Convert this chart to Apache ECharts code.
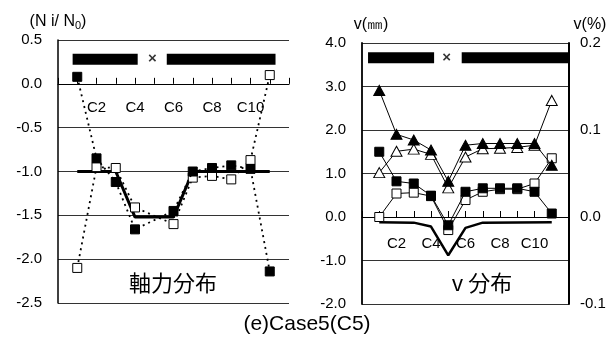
<!DOCTYPE html>
<html><head><meta charset="utf-8">
<script src="https://cdn.jsdelivr.net/npm/echarts@6/dist/echarts.min.js"></script>
<style>html,body{margin:0;padding:0;background:#fff}#c{width:613px;height:343px}</style>
</head><body><div id="c"></div>
<script>
// ---- data ----
const colX = [1, 2, 3, 4, 5, 6, 7, 8, 9, 10, 11];
const colLabels = ['C1','C2','C3','C4','C5','C6','C7','C8','C9','C10','C11'];
const xTickLabels = ['C2','C4','C6','C8','C10'];
const removedCol = 5;

// axial force ratio Ni/N0
const axialFilled = [0.08, -0.85, -1.12, -1.66, null, -1.45, -1.00, -0.96, -0.93, -0.97, -2.14];
const axialOpen   = [-2.10, -0.95, -0.96, -1.41, null, -1.60, -1.07, -1.05, -1.09, -0.87, 0.10];
const axialLineX  = [1, 3, 4, 6, 7, 11];
const axialLineY  = [-1.0, -1.0, -1.52, -1.52, -1.0, -1.0];
const axialTicks  = { min: -2.5, max: 0.5, step: 0.5 };

// vertical displacement v (mm)
const vTriFilled = [2.91, 1.90, 1.77, 1.54, 0.82, 1.65, 1.69, 1.69, 1.69, 1.69, 1.19];
const vTriOpen   = [1.02, 1.51, 1.56, 1.44, 0.67, 1.38, 1.57, 1.58, 1.60, 1.65, 2.68];
const vSqFilled  = [1.50, 0.82, 0.77, 0.49, -0.19, 0.58, 0.66, 0.66, 0.66, 0.58, 0.08];
const vSqOpen    = [0.00, 0.54, 0.56, 0.48, -0.30, 0.39, 0.58, 0.64, 0.64, 0.77, 1.35];
const vLineX     = [1, 3, 4, 5, 6, 7, 11];
const vLineY     = [-0.12, -0.13, -0.22, -0.88, -0.25, -0.13, -0.12];
const vTicks     = { min: -2, max: 4, step: 1 };
const vPctTicks  = { min: -0.1, max: 0.2, step: 0.1 };

// beam (girder) segments drawn above each plot
const beamSegsAxial = [[0.76, 4.14], [5.65, 11.3]];
const beamLevelAxial = 0.28;
const beamSegsV = [[0.35, 4.18], [5.78, 11.97]];
const beamLevelV = 3.66;

// ---- chart ----
const FONT = '"Liberation Sans", Arial, sans-serif';
const CJK = '"Noto Sans CJK JP", sans-serif';
const pts = (xs, ys) => xs.map((x, i) => [x, ys[i]]);

const G0 = { left: 58, top: 40, width: 231, height: 263 };
const G1 = { left: 362, top: 43, width: 207, height: 261 };
// distance (px) from grid bottom up to the value 0 on the y axis
const zeroOffset = (g, t) => -g.height * (0 - t.min) / (t.max - t.min);

function beamSeries(segs, level, xi, yi) {
  const out = segs.map(s => ({
    type: 'line', xAxisIndex: xi, yAxisIndex: yi, silent: true,
    data: [[s[0], level], [s[1], level]], symbol: 'none',
    lineStyle: { color: '#000', width: 11, cap: 'butt' }, z: 3
  }));
  out.push({
    type: 'scatter', xAxisIndex: xi, yAxisIndex: yi, silent: true,
    data: [[removedCol - 0.1, level]], symbolSize: 0,
    label: { show: true, position: 'inside', formatter: '×', color: '#000',
             fontSize: 15, fontWeight: 'bold', fontFamily: FONT }
  });
  return out;
}

function markSeries(vals, symbol, size, filled, dotted, xi, yi, z) {
  return {
    type: 'line', xAxisIndex: xi, yAxisIndex: yi, z: z,
    data: pts(colX, vals), connectNulls: true,
    symbol: symbol, symbolSize: size, showSymbol: true,
    itemStyle: { color: filled ? '#000' : '#fff', borderColor: '#000', borderWidth: 1 },
    lineStyle: dotted ? { color: '#000', width: 1.8, type: [2, 4] }
                      : { color: '#000', width: 1 },
    emphasis: { disabled: true }
  };
}

function xAxisFor(gi, g, t, margin) {
  return {
    type: 'value', gridIndex: gi, min: 0, max: 12, interval: 1,
    position: 'bottom', offset: zeroOffset(g, t),
    axisLine: { show: true, onZero: false, lineStyle: { color: '#000', width: 1.2 } },
    axisTick: { show: true, inside: true, length: 6, lineStyle: { color: '#000', width: 1 } },
    splitLine: { show: false },
    axisLabel: {
      fontFamily: FONT, fontSize: 15, color: '#000', margin: margin,
      formatter: v => { const l = colLabels[v - 1]; return xTickLabels.includes(l) ? l : ''; }
    }
  };
}

const chart = echarts.init(document.getElementById('c'), null, { renderer: 'canvas' });
chart.setOption({
  animation: false,
  backgroundColor: '#fff',
  grid: [G0, G1],
  xAxis: [
    xAxisFor(0, G0, axialTicks, 17),
    xAxisFor(1, G1, vTicks, 19)
  ],
  yAxis: [
    {
      type: 'value', gridIndex: 0, min: axialTicks.min, max: axialTicks.max, interval: axialTicks.step,
      name: '{a|(N i/ N}{s|0}{a|)}', nameLocation: 'end', nameGap: 9,
      nameTextStyle: { align: 'center', verticalAlign: 'bottom',
                       rich: { a: { fontFamily: FONT, fontSize: 16, color: '#000' },
                               s: { fontFamily: FONT, fontSize: 11, color: '#000', padding: [7, 0, 0, 0] } } },
      axisLine: { show: true, onZero: false, lineStyle: { color: '#000', width: 1.5 } },
      axisTick: { show: false },
      splitLine: { show: true, lineStyle: { color: '#333', width: 1 } },
      axisLabel: { fontFamily: FONT, fontSize: 15, color: '#000', margin: 16,
                   formatter: v => v.toFixed(1) }
    },
    {
      type: 'value', gridIndex: 1, min: vTicks.min, max: vTicks.max, interval: vTicks.step,
      name: 'v(㎜)', nameLocation: 'end', nameGap: 10,
      nameTextStyle: { align: 'center', verticalAlign: 'bottom', fontFamily: FONT, fontSize: 16, color: '#000', padding: [0, 0, 0, 18] },
      axisLine: { show: true, onZero: false, lineStyle: { color: '#000', width: 1.8 } },
      axisTick: { show: false },
      splitLine: { show: true, lineStyle: { color: '#333', width: 1 } },
      axisLabel: { fontFamily: FONT, fontSize: 15, color: '#000', margin: 16,
                   formatter: v => v.toFixed(1) }
    },
    {
      type: 'value', gridIndex: 1, position: 'right', min: vPctTicks.min, max: vPctTicks.max, interval: vPctTicks.step,
      name: 'v(%)', nameLocation: 'end', nameGap: 10,
      nameTextStyle: { align: 'center', verticalAlign: 'bottom', fontFamily: FONT, fontSize: 16, color: '#000', padding: [0, 0, 0, 42] },
      axisLine: { show: true, onZero: false, lineStyle: { color: '#000', width: 2 } },
      axisTick: { show: false },
      splitLine: { show: false },
      axisLabel: { fontFamily: FONT, fontSize: 15, color: '#000', margin: 11,
                   formatter: v => v.toFixed(1) }
    }
  ],
  graphic: [
    { type: 'text', x: 173, y: 283, style: { text: '軸力分布', font: '22px ' + CJK, fill: '#000', align: 'center', verticalAlign: 'middle' } },
    { type: 'text', x: 482, y: 283, style: { text: 'v 分布', font: '22px ' + CJK, fill: '#000', align: 'center', verticalAlign: 'middle' } },
    { type: 'text', x: 307, y: 324, style: { text: '(e)Case5(C5)', font: '21px ' + FONT, fill: '#000', align: 'center', verticalAlign: 'middle' } }
  ],
  series: [
    ...beamSeries(beamSegsAxial, beamLevelAxial, 0, 0),
    { type: 'line', xAxisIndex: 0, yAxisIndex: 0, data: pts(axialLineX, axialLineY), symbol: 'none',
      lineStyle: { color: '#000', width: 3 }, z: 2 },
    markSeries(axialOpen, 'rect', 9, false, true, 0, 0, 3),
    markSeries(axialFilled, 'rect', 9, true, true, 0, 0, 4),

    ...beamSeries(beamSegsV, beamLevelV, 1, 1),
    { type: 'line', xAxisIndex: 1, yAxisIndex: 1, data: pts(vLineX, vLineY), symbol: 'none',
      lineStyle: { color: '#000', width: 2.5 }, z: 2 },
    markSeries(vSqOpen, 'rect', 9, false, false, 1, 1, 3),
    markSeries(vSqFilled, 'rect', 9, true, false, 1, 1, 4),
    markSeries(vTriOpen, 'triangle', [11, 10], false, false, 1, 1, 5),
    markSeries(vTriFilled, 'triangle', [11, 10], true, false, 1, 1, 6)
  ]
});
</script></body></html>
